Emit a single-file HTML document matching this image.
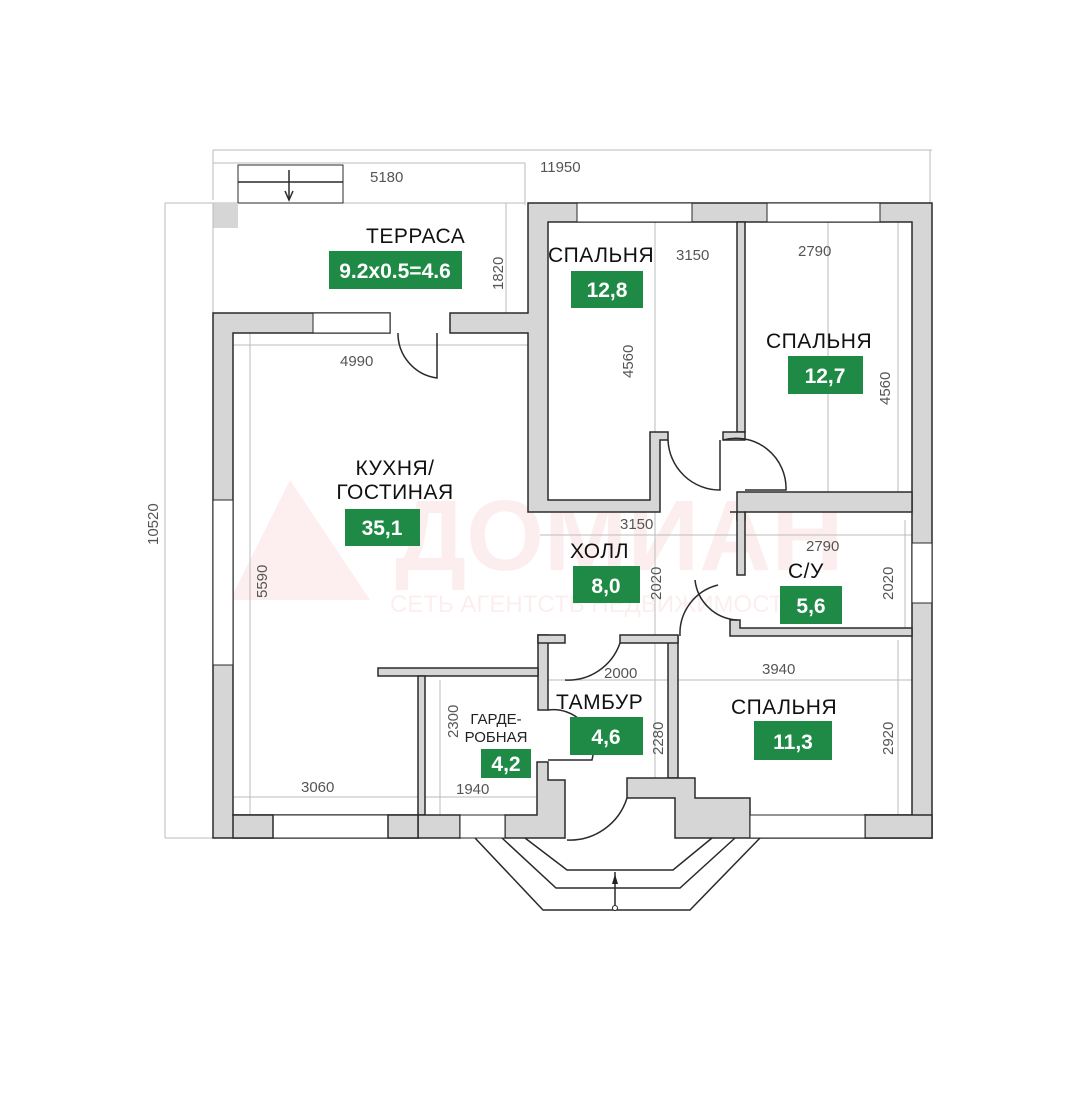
<!DOCTYPE html>
<html><head><meta charset="utf-8"><style>
body{margin:0;background:#fff}
svg{display:block}
text{font-family:"Liberation Sans",sans-serif}
.w{fill:#d6d6d6;stroke:#2a2a2a;stroke-width:1.5}
.l{fill:none;stroke:#2a2a2a;stroke-width:1.5}
.d{fill:none;stroke:#bbb;stroke-width:1}
.win{fill:#fff;stroke:#2a2a2a;stroke-width:1}
.dim{font-size:15px;fill:#555}
.rn{font-size:21px;fill:#111;letter-spacing:0.5px}
.g{fill:#1f8a45}
.gt{font-size:21px;fill:#fff;font-weight:bold}
</style></head><body>
<svg width="1080" height="1108" viewBox="0 0 1080 1108">
<!-- watermark -->
<g opacity="0.07">
<text x="395" y="570" font-size="100" fill="#e02030" font-weight="bold">ДОМИАН</text>
<text x="390" y="612" font-size="24" fill="#e02030">СЕТЬ АГЕНТСТВ НЕДВИЖИМОСТИ</text>
<polygon points="230,600 290,480 370,600" fill="#e02030"/>
</g>
<!-- dimension guides -->
<line class="d" x1="213" y1="150" x2="932" y2="150"/>
<line class="d" x1="213" y1="150" x2="213" y2="200"/>
<line class="d" x1="930" y1="150" x2="930" y2="205"/>
<text class="dim" x="540" y="172" font-size="17">11950</text>
<line class="d" x1="213" y1="163" x2="525" y2="163"/>
<line class="d" x1="525" y1="163" x2="525" y2="205"/>
<text class="dim" x="370" y="182" font-size="13">5180</text>
<line class="d" x1="165" y1="203" x2="525" y2="203"/>
<line class="d" x1="165" y1="203" x2="165" y2="838"/>
<line class="d" x1="165" y1="838" x2="213" y2="838"/>
<text class="dim" x="158" y="545" transform="rotate(-90 158 545)" font-size="17">10520</text>
<line class="d" x1="655" y1="222" x2="655" y2="790"/>
<line class="d" x1="233" y1="345" x2="528" y2="345"/>
<line class="d" x1="250" y1="333" x2="250" y2="815"/>
<line class="d" x1="233" y1="797" x2="418" y2="797"/>
<line class="d" x1="540" y1="535" x2="912" y2="535"/>
<line class="d" x1="678" y1="680" x2="912" y2="680"/>
<line class="d" x1="540" y1="680" x2="670" y2="680"/>
<line class="d" x1="440" y1="680" x2="440" y2="815"/>
<line class="d" x1="425" y1="797" x2="538" y2="797"/>
<line class="d" x1="898" y1="222" x2="898" y2="500"/>
<line class="d" x1="898" y1="640" x2="898" y2="815"/>
<line class="d" x1="828" y1="222" x2="828" y2="498"/>
<line class="d" x1="905" y1="520" x2="905" y2="628"/>
<line class="d" x1="506" y1="203" x2="506" y2="313"/>
<!-- terrace stairs -->
<rect x="238" y="165" width="105" height="38" class="win"/>
<line class="l" x1="238" y1="182" x2="343" y2="182" stroke-width="1"/>
<line class="l" x1="289" y1="170" x2="289" y2="200" stroke-width="1"/>
<polyline class="l" points="285,191 289,200 293,191" stroke-width="1"/>
<rect x="213" y="203" width="25" height="25" fill="#d6d6d6"/>
<line class="d" x1="213" y1="203" x2="213" y2="313"/>
<!-- outer walls -->
<path class="w" d="M213,313 H390 V333 H233 V815 H418 V838 H213 Z"/>
<path class="w" d="M450,313 H528 V203 H932 V838 H865 V815 H912 V222 H548 V500 H650 V432 H668 V440 H660 V512 H528 V333 H450 Z"/>
<!-- top windows -->
<rect x="313" y="313" width="77" height="20" class="win"/>
<rect x="577" y="203" width="115" height="19" class="win"/>
<rect x="767" y="203" width="113" height="19" class="win"/>
<rect x="213" y="500" width="20" height="165" class="win"/>
<rect x="912" y="543" width="20" height="60" class="win"/>
<!-- bedroom partitions -->
<path class="w" d="M737,222 H745 V432 H737 Z"/>
<path class="w" d="M723,432 H745 V440 H723 Z"/>
<path class="w" d="M737,492 H912 V512 H745 V520 H737 Z"/>
<!-- C/U -->
<path class="w" d="M730,512 H745 V575 H737 V512 Z"/>
<path class="w" d="M730,620 H740 V628 H912 V636 H730 Z"/>
<path class="w" d="M668,636 H678 V778 H668 Z"/>
<!-- tambur walls -->
<path class="w" d="M538,635 H548 V710 H538 Z"/>
<path class="w" d="M538,635 H565 V643 H538 Z"/>
<path class="w" d="M620,635 H678 V643 H620 Z"/>
<path class="w" d="M378,668 H538 V676 H378 Z"/>
<path class="w" d="M418,676 H425 V815 H418 Z"/>
<path class="w" d="M537,762 H548 V780 H565 V838 H505 V815 H537 Z"/>
<path class="w" d="M627,778 H695 V798 H750 V838 H865 V815 H932 V838 H675 V798 H627 Z"/>
<path class="w" d="M418,815 H460 V838 H418 Z"/>
<rect x="460" y="815" width="45" height="23" class="win"/>
<rect x="273" y="815" width="115" height="23" class="win"/>
<rect x="750" y="815" width="115" height="23" class="win"/>
<path class="w" d="M233,815 H273 V838 H233 Z"/>
<path class="w" d="M388,815 H418 V838 H388 Z"/>
<!-- doors -->
<path class="l" d="M398,333 A45,45 0 0 0 437,378 V333" stroke-width="1"/>
<path class="l" d="M668,440 A52,52 0 0 0 720,490 V440" stroke-width="1"/>
<path class="l" d="M723,440 A50,50 0 0 1 786,490 H745" stroke-width="1"/>
<path class="l" d="M695,580 A45,45 0 0 0 737,620" stroke-width="1"/>
<path class="l" d="M718,585 A50,50 0 0 0 680,636" stroke-width="1"/>
<path class="l" d="M620,643 A55,55 0 0 1 565,680" stroke-width="1"/>
<path class="l" d="M548,710 A40,40 0 0 1 592,760 H548" stroke-width="1"/>
<path class="l" d="M627,798 A60,60 0 0 1 567,840" stroke-width="1"/>
<!-- porch -->
<polyline class="l" stroke-width="1.2" points="475,838 543,910 690,910 760,838"/>
<polyline class="l" stroke-width="1.2" points="502,838 556,888 680,888 735,838"/>
<polyline class="l" stroke-width="1.2" points="525,838 567,870 673,870 712,838"/>
<line class="l" x1="615" y1="872" x2="615" y2="905" stroke-width="1"/>
<polygon points="612,884 615,874 618,884" fill="#222"/>
<circle cx="615" cy="908" r="2.5" fill="#fff" stroke="#222"/>
<!-- labels -->
<text class="rn" x="366" y="243">ТЕРРАСА</text>
<rect class="g" x="329" y="251" width="133" height="38"/><text class="gt" x="395" y="278" text-anchor="middle">9.2x0.5=4.6</text>
<text class="dim" x="503" y="290" transform="rotate(-90 503 290)">1820</text>
<text class="dim" x="340" y="366" font-size="17">4990</text>
<text class="rn" x="548" y="262">СПАЛЬНЯ</text>
<text class="dim" x="676" y="260">3150</text>
<rect class="g" x="571" y="271" width="72" height="37"/><text class="gt" x="607" y="297" text-anchor="middle">12,8</text>
<text class="dim" x="633" y="378" transform="rotate(-90 633 378)">4560</text>
<text class="dim" x="798" y="256">2790</text>
<text class="rn" x="766" y="348">СПАЛЬНЯ</text>
<rect class="g" x="788" y="356" width="75" height="38"/><text class="gt" x="825" y="383" text-anchor="middle">12,7</text>
<text class="dim" x="890" y="405" transform="rotate(-90 890 405)">4560</text>
<text class="rn" x="395" y="475" text-anchor="middle">КУХНЯ/</text>
<text class="rn" x="395" y="499" text-anchor="middle">ГОСТИНАЯ</text>
<rect class="g" x="345" y="509" width="75" height="37"/><text class="gt" x="382" y="535" text-anchor="middle">35,1</text>
<text class="dim" x="267" y="598" transform="rotate(-90 267 598)">5590</text>
<text class="dim" x="620" y="529">3150</text>
<text class="rn" x="570" y="558">ХОЛЛ</text>
<rect class="g" x="573" y="566" width="67" height="37"/><text class="gt" x="606" y="593" text-anchor="middle">8,0</text>
<text class="dim" x="661" y="600" transform="rotate(-90 661 600)">2020</text>
<text class="dim" x="806" y="551">2790</text>
<text class="rn" x="788" y="578">С/У</text>
<rect class="g" x="780" y="586" width="62" height="38"/><text class="gt" x="811" y="613" text-anchor="middle">5,6</text>
<text class="dim" x="893" y="600" transform="rotate(-90 893 600)">2020</text>
<text class="dim" x="604" y="678">2000</text>
<text class="dim" x="762" y="674">3940</text>
<text class="rn" x="556" y="709">ТАМБУР</text>
<rect class="g" x="570" y="717" width="73" height="38"/><text class="gt" x="606" y="744" text-anchor="middle">4,6</text>
<text class="dim" x="663" y="755" transform="rotate(-90 663 755)">2280</text>
<text class="rn" x="731" y="714">СПАЛЬНЯ</text>
<rect class="g" x="754" y="721" width="78" height="39"/><text class="gt" x="793" y="749" text-anchor="middle">11,3</text>
<text class="dim" x="893" y="755" transform="rotate(-90 893 755)">2920</text>
<text x="496" y="724" font-size="15" fill="#222" text-anchor="middle">ГАРДЕ-</text>
<text x="496" y="742" font-size="15" fill="#222" text-anchor="middle">РОБНАЯ</text>
<rect class="g" x="481" y="749" width="50" height="29"/><text class="gt" x="506" y="771" text-anchor="middle" font-size="19">4,2</text>
<text class="dim" x="458" y="738" transform="rotate(-90 458 738)">2300</text>
<text class="dim" x="456" y="794">1940</text>
<text class="dim" x="301" y="792" font-size="17">3060</text>
</svg>
</body></html>
